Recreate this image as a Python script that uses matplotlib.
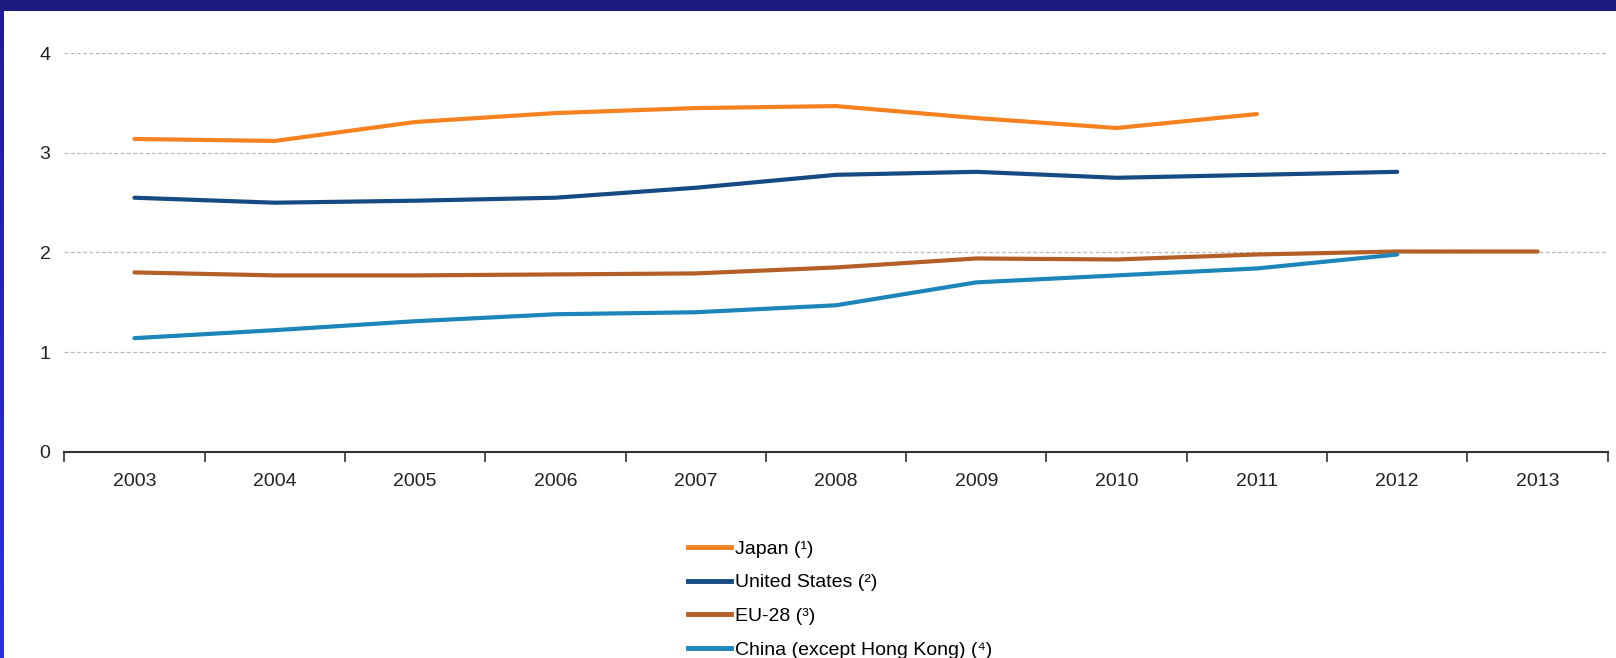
import numpy as np
import matplotlib.pyplot as plt
from matplotlib.patches import Rectangle
from matplotlib.lines import Line2D
from matplotlib.colors import LinearSegmentedColormap

plt.rcParams['font.family'] = ['Liberation Sans', 'DejaVu Sans']

years = ["2003", "2004", "2005", "2006", "2007", "2008", "2009", "2010", "2011", "2012", "2013"]

japan = [3.14, 3.12, 3.31, 3.40, 3.45, 3.47, 3.35, 3.25, 3.39]
united_states = [2.55, 2.50, 2.52, 2.55, 2.65, 2.78, 2.81, 2.75, 2.78, 2.81]
eu28 = [1.80, 1.77, 1.77, 1.78, 1.79, 1.85, 1.94, 1.93, 1.98, 2.01, 2.01]
china = [1.14, 1.22, 1.31, 1.38, 1.40, 1.47, 1.70, 1.77, 1.84, 1.98]

series = [
    ("Japan (\u00b9)", japan, "#f5821f"),
    ("United States (\u00b2)", united_states, "#154a82"),
    ("EU-28 (\u00b3)", eu28, "#b45f27"),
    ("China (except Hong Kong) (\u2074)", china, "#1c86bb"),
]

W, H = 1616, 658
fig = plt.figure(figsize=(W / 100, H / 100), dpi=100)
fig.patch.set_facecolor("white")

# frame: navy band on top, blue gradient strip on the left
fig.patches.append(Rectangle((0, 1 - 11 / H), 1, 11 / H, transform=fig.transFigure,
                             facecolor="#1b1a80", edgecolor="none", zorder=0))
strip = fig.add_axes([0, 0, 4 / W, 1 - 11 / H])
grad = np.linspace(0, 1, 256).reshape(-1, 1)
cmap = LinearSegmentedColormap.from_list("edge", ["#2e2ee6", "#1e1c9a"])
strip.imshow(grad, aspect="auto", cmap=cmap, origin="lower")
strip.axis("off")

x0, x1 = 64.3, 1607.7
y0, y4 = 451.7, 53.3
ax = fig.add_axes([x0 / W, (H - y0) / H, (x1 - x0) / W, (y0 - y4) / H])

xs = np.arange(len(years))
for label, vals, color in series:
    ax.plot(xs[:len(vals)], vals, color=color, lw=3, solid_capstyle="round",
            solid_joinstyle="round", label=label)

ax.set_xlim(-0.5, len(years) - 0.5)
ax.set_ylim(0, 4)
ax.set_yticks([0, 1, 2, 3, 4])
ax.set_yticklabels(["0", "1", "2", "3", "4"])
ax.set_xticks(xs)
ax.set_xticklabels(years)
ax.set_xticks(np.arange(len(years) + 1) - 0.5, minor=True)
ax.tick_params(axis="x", which="major", length=0, pad=15, labelsize=14, colors="#222222")
ax.tick_params(axis="x", which="minor", length=7, width=1.2, color="#333333", direction="out")
ax.tick_params(axis="y", length=0, pad=10, labelsize=14, colors="#222222")

for v in [1, 2, 3, 4]:
    ax.axhline(v, color="#b8b8b8", lw=0.9, ls=(0, (3, 2)), zorder=0)

for s in ["top", "right", "left"]:
    ax.spines[s].set_visible(False)
ax.spines["bottom"].set_color("#333333")
ax.spines["bottom"].set_linewidth(1.5)
ax.set_facecolor("none")

handles = [Line2D([], [], color=c, lw=3.5) for _, _, c in series]
labels = [l for l, _, _ in series]
fig.legend(handles, labels, loc="upper left", bbox_to_anchor=(688 / W, 1 - 540 / H),
           frameon=False, fontsize=14, handlelength=2.2, handletextpad=0.2,
           labelspacing=0.83, borderpad=0, borderaxespad=0)

fig.savefig("out.png", dpi=100)
